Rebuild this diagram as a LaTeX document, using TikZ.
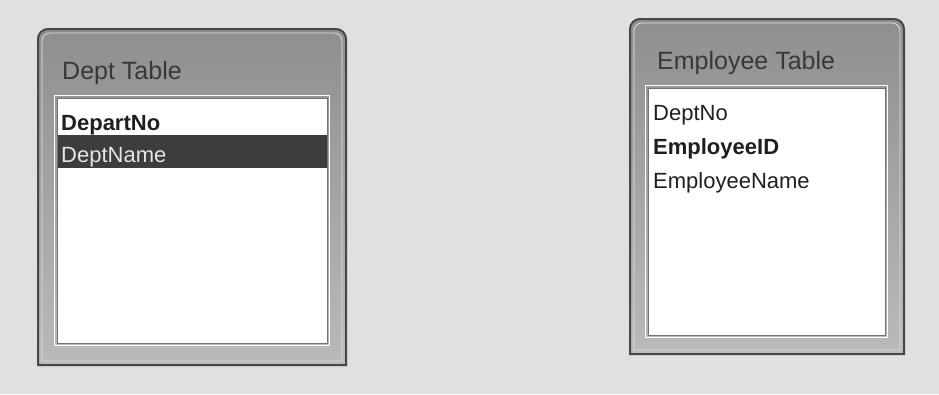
\documentclass[tikz,border=0pt]{standalone}
\usepackage{fontspec}
\setmainfont{Liberation Sans}
\begin{document}
\begin{tikzpicture}[x=1pt,y=-1pt,
  frame/.style={draw=black!72, line width=2pt, top color=black!44, bottom color=black!27},
  frameinner/.style={draw=black!12, line width=0.8pt},
  panel/.style={fill=white, draw=black!55, line width=1pt},
  panelrim/.style={draw=white, line width=1.6pt},
  selrow/.style={fill=black!76},
  tabtitle/.style={anchor=base west, inner sep=0pt, font=\fontsize{25}{28}\selectfont, text=black!78},
  field/.style={anchor=base west, inner sep=0pt, font=\fontsize{22}{24}\selectfont, text=black!88},
  keyfield/.style={field, font=\fontsize{22}{24}\selectfont\bfseries},
  selfield/.style={field, text=black!10}]
\fill[black!12] (0,0) rectangle (939,394);
\useasboundingbox (0,0) rectangle (939,394);
% ---------- Dept Table ----------
\draw[frame] (38,365) -- (38,39) arc(180:270:10) -- (336,29) arc(270:360:10) -- (346,365) -- cycle;
\draw[frameinner] (42,361) -- (42,41) arc(180:270:8) -- (334,33) arc(270:360:8) -- (342,361) -- cycle;
\draw[panelrim] (54.5,95.5) rectangle (329.5,345.5);
\draw[panel] (57,98) rectangle (327,343);
\fill[selrow] (57.5,135) rectangle (326.5,168);
\node[tabtitle] (depttitle) at (62,79) {Dept Table};
\node[keyfield] (departno) at (61,130) {DepartNo};
\node[selfield] (deptname) at (61,162) {DeptName};
% ---------- Employee Table ----------
\draw[frame] (630,354) -- (630,29) arc(180:270:10) -- (894,19) arc(270:360:10) -- (904,354) -- cycle;
\draw[frameinner] (634,350) -- (634,31) arc(180:270:8) -- (892,23) arc(270:360:8) -- (900,350) -- cycle;
\draw[panelrim] (645.5,85.5) rectangle (887.5,337.5);
\draw[panel] (648,88) rectangle (885,335);
\node[tabtitle] (emptitle) at (657,69) {Employee Table};
\node[field] (deptno) at (653,120) {DeptNo};
\node[keyfield] (employeeid) at (653,154) {EmployeeID};
\node[field] (employeename) at (653,188) {EmployeeName};
\end{tikzpicture}
\end{document}
